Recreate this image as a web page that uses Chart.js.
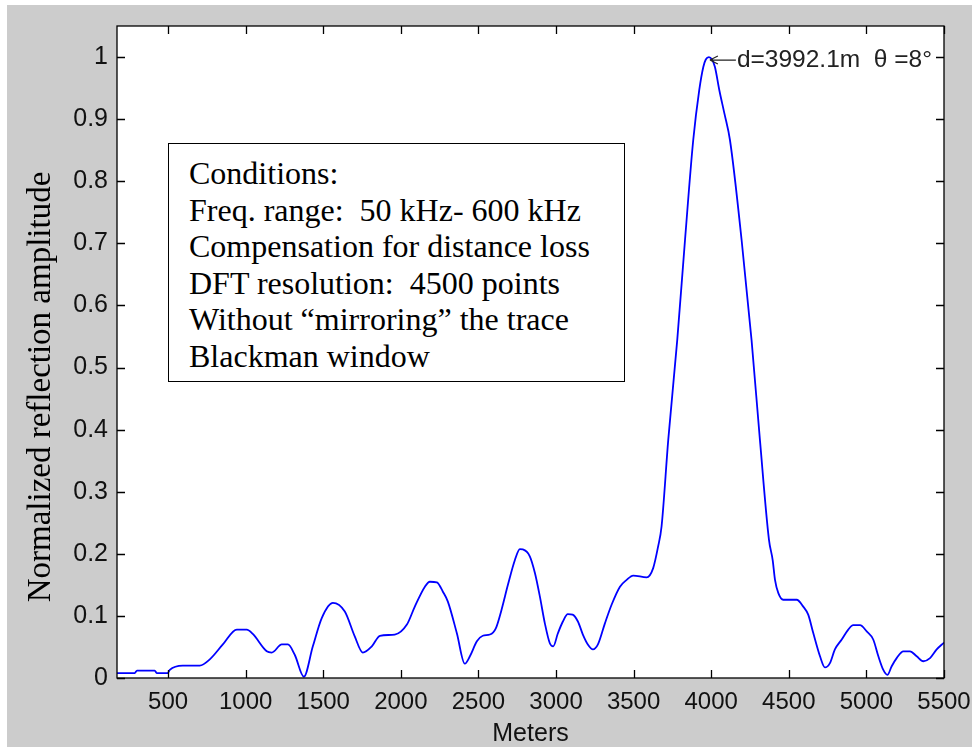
<!DOCTYPE html>
<html>
<head>
<meta charset="utf-8">
<script src="https://cdn.jsdelivr.net/npm/chart.js@4.4.0/dist/chart.umd.min.js"></script>
<style>
  html, body { margin: 0; padding: 0; background: #fff; }
  #wrap { position: relative; width: 972px; height: 747px; overflow: hidden; }
  #plot { position: absolute; left: 0; top: 0; }
  #conditions {
    position: absolute; left: 168px; top: 143px; width: 457px; height: 239px;
    border: 1.5px solid #000; background: #fff;
    font-family: "Liberation Serif", "Times New Roman", serif; font-size: 32px;
    line-height: 36.5px; padding: 11px 0 0 20px; box-sizing: border-box; color: #000;
    white-space: nowrap;
  }
</style>
</head>
<body>
<div id="wrap">
  <canvas id="plot" width="972" height="747"></canvas>
  <div id="conditions">
    Conditions:<br>
    Freq. range:&nbsp; 50 kHz- 600 kHz<br>
    Compensation for distance loss<br>
    DFT resolution:&nbsp; 4500 points<br>
    Without “mirroring” the trace<br>
    Blackman window
  </div>
</div>
<script>
// distance (m) and normalized amplitude
const meters=[171,285,300,414,427,498,511,595,704,769,853,943,1007,1046,1136,1168,1233,1272,1317,1375,
  1433,1491,1562,1639,1703,1755,1813,1865,1961,2039,2090,2155,2187,2232,2271,2303,2361,2412,2445,2490,
  2528,2574,2612,2649,2690,2735,2767,2786,2831,2864,2896,2928,2960,2982,3012,3044,3076,3107,3141,3173,
  3205,3238,3270,3315,3358,3412,3455,3497,3584,3626,3658,3680,3723,3781,3831,3884,3923,3949,3965,3985,4005,4024,
  4052,4086,4121,4196,4260,4314,4372,4396,4411,4432,4464,4551,4593,4625,4658,4701,4733,4765,4797,4841,4883,
  4915,4959,5002,5044,5077,5109,5135,5163,5195,5238,5281,5324,5367,5410,5453,5500];
const amplitude=[0.008,0.008,0.012,0.012,0.008,0.008,0.013,0.02,0.02,0.03,0.054,0.078,0.078,0.071,0.043,0.041,0.054,0.054,0.037,0.002,
  0.051,0.097,0.121,0.107,0.067,0.041,0.051,0.068,0.07,0.086,0.115,0.147,0.155,0.154,0.139,0.123,0.072,0.023,0.035,0.059,
  0.068,0.070,0.080,0.11,0.15,0.19,0.2075,0.207,0.196,0.169,0.131,0.088,0.056,0.051,0.072,0.091,0.103,0.102,0.091,0.070,
  0.054,0.046,0.054,0.088,0.118,0.147,0.158,0.165,0.162,0.177,0.212,0.244,0.383,0.544,0.705,0.866,0.947,0.984,0.996,1.0,0.996,0.984,
  0.947,0.908,0.866,0.705,0.544,0.383,0.223,0.19,0.158,0.137,0.126,0.126,0.115,0.102,0.072,0.035,0.017,0.024,0.046,0.062,0.078,
  0.085,0.085,0.075,0.062,0.035,0.013,0.005,0.019,0.032,0.043,0.043,0.035,0.027,0.032,0.046,0.057];

const xRange=[171,5500];
const yRange=[0,1.05];
const xTicks=[500,1000,1500,2000,2500,3000,3500,4000,4500,5000,5500];
const yTicks=[0,0.1,0.2,0.3,0.4,0.5,0.6,0.7,0.8,0.9,1];
const peakLabel='d=3992.1m  θ =8°';
const yTitle='Normalized reflection amplitude';
const xTitle='Meters';

const axisFont="'Liberation Sans', Arial, Helvetica, sans-serif";

// matlab style figure: gray frame, white axes, boxed, ticks pointing in
const matlabFrame={
  id:'matlabFrame',
  beforeDraw(chart){
    const ctx=chart.ctx, a=chart.chartArea;
    ctx.save();
    ctx.fillStyle='#fff';
    ctx.fillRect(0,0,chart.width,chart.height);
    ctx.fillStyle='#cccccc';
    ctx.fillRect(7,5,chart.width-7,chart.height-5);
    ctx.fillStyle='#fff';
    ctx.fillRect(a.left,a.top,a.right-a.left,a.bottom-a.top);
    ctx.restore();
  },
  afterDraw(chart){
    const ctx=chart.ctx, a=chart.chartArea;
    const xs=chart.scales.x, ys=chart.scales.y;
    const len=8;
    ctx.save();
    ctx.strokeStyle='#000';
    ctx.lineWidth=1.3;
    ctx.strokeRect(a.left,a.top,a.right-a.left,a.bottom-a.top);
    ctx.beginPath();
    xs.ticks.forEach(t=>{
      const px=Math.round(xs.getPixelForValue(t.value))+0.5;
      ctx.moveTo(px,a.bottom); ctx.lineTo(px,a.bottom-len);
      ctx.moveTo(px,a.top); ctx.lineTo(px,a.top+len);
    });
    ys.ticks.forEach(t=>{
      const py=Math.round(ys.getPixelForValue(t.value))+0.5;
      ctx.moveTo(a.left,py); ctx.lineTo(a.left+len,py);
      ctx.moveTo(a.right,py); ctx.lineTo(a.right-len,py);
    });
    ctx.stroke();

    // y label, sits a bit below the axis middle like the original
    ctx.fillStyle='#000';
    ctx.font="33px 'Liberation Serif', 'Times New Roman', serif";
    ctx.textAlign='center';
    ctx.textBaseline='middle';
    ctx.translate(41,(a.top+a.bottom)/2+35);
    ctx.rotate(-Math.PI/2);
    ctx.fillText(yTitle,0,0);
    ctx.restore();
  },
  afterDatasetsDraw(chart){
    // arrow + text at the peak
    const ctx=chart.ctx;
    let iMax=0;
    amplitude.forEach((v,i)=>{ if(v>amplitude[iMax]) iMax=i; });
    const px=chart.scales.x.getPixelForValue(meters[iMax]);
    const py=chart.scales.y.getPixelForValue(amplitude[iMax])+3;
    ctx.save();
    ctx.strokeStyle='#222';
    ctx.lineWidth=1.2;
    ctx.beginPath();
    ctx.moveTo(px+1,py); ctx.lineTo(px+27,py);
    ctx.moveTo(px+1,py); ctx.lineTo(px+9,py-4);
    ctx.moveTo(px+1,py); ctx.lineTo(px+9,py+4);
    ctx.stroke();
    ctx.fillStyle='#222';
    ctx.font='24.5px '+axisFont;
    ctx.textAlign='left';
    ctx.textBaseline='middle';
    ctx.fillText(peakLabel,px+28,py);
    ctx.restore();
  }
};

new Chart(document.getElementById('plot'),{
  type:'line',
  data:{
    datasets:[{
      data:meters.map((m,i)=>({x:m,y:amplitude[i]})),
      borderColor:'#0000ff',
      borderWidth:1.8,
      pointRadius:0,
      fill:false,
      cubicInterpolationMode:'monotone'
    }]
  },
  options:{
    responsive:false,
    devicePixelRatio:1,
    animation:false,
    layout:{padding:{top:26,right:28,left:0,bottom:0}},
    plugins:{legend:{display:false},tooltip:{enabled:false}},
    scales:{
      x:{
        type:'linear',
        min:xRange[0], max:xRange[1],
        afterFit(s){ s.height=69; s.paddingLeft=0; s.paddingRight=0; },
        afterBuildTicks(s){ s.ticks=xTicks.map(v=>({value:v})); },
        grid:{display:false,drawTicks:false},
        border:{display:false},
        ticks:{autoSkip:false,padding:10,color:'#111',maxRotation:0,
          font:{family:axisFont,size:24},callback:v=>String(v)},
        title:{display:true,text:xTitle,color:'#111',padding:{top:0,bottom:0},
          font:{family:axisFont,size:25,lineHeight:1.0}}
      },
      y:{
        type:'linear',
        min:yRange[0], max:yRange[1],
        afterFit(s){ s.width=117; s.paddingTop=0; s.paddingBottom=0; },
        afterBuildTicks(s){ s.ticks=yTicks.map(v=>({value:v})); },
        grid:{display:false,drawTicks:false},
        border:{display:false},
        ticks:{autoSkip:false,padding:9,color:'#111',
          font:{family:axisFont,size:25},callback:v=>String(v)}
      }
    }
  },
  plugins:[matlabFrame]
});
</script>
</body>
</html>
